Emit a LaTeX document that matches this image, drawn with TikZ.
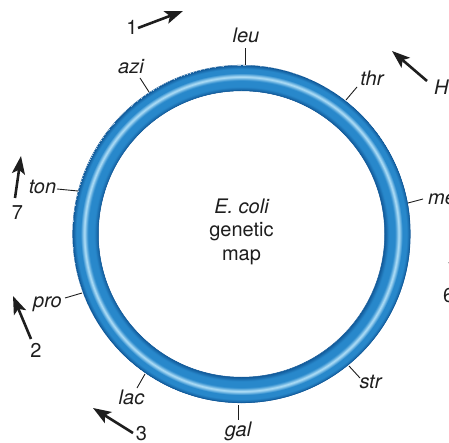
\documentclass[tikz,border=0pt]{standalone}
\usepackage{fontspec}
\setmainfont{TeX Gyre Heros}
\usetikzlibrary{arrows.meta}
\definecolor{ringdark}{RGB}{16,88,152}
\definecolor{ringmid}{RGB}{40,136,203}
\definecolor{ringlight}{RGB}{180,225,248}
\definecolor{inkc}{RGB}{30,30,30}
\pgfdeclareradialshading{ringshade}{\pgfpoint{0bp}{0bp}}{%
  color(0bp)=(white); color(142.2bp)=(white);
  color(142.47bp)=(ringdark);
  color(146.8bp)=(ringmid); color(152.9bp)=(ringmid);
  color(156.7bp)=(ringlight); color(160.4bp)=(ringmid);
  color(164.6bp)=(ringmid); color(168.37bp)=(ringdark)}
\begin{document}
\begin{tikzpicture}[x=1pt,y=-1pt,
  lab/.style={font=\fontsize{20}{24}\selectfont\itshape, inner sep=0pt, text=inkc},
  num/.style={font=\fontsize{20}{24}\selectfont, inner sep=0pt, text=inkc},
  ctr/.style={font=\fontsize{20}{24}\selectfont, inner sep=0pt, text=inkc, anchor=base},
  tickln/.style={line width=0.9pt, draw=inkc},
  arr/.style={line width=2.6pt, draw=inkc, -{Stealth[length=18pt,width=13pt,inset=4pt]}}]
\useasboundingbox (0,0) rectangle (449,443);
\clip (0,0) rectangle (449,443);
\coordinate (C) at (241.5,234);
% ring
\begin{scope}
  \clip (C) circle[radius=169pt];
  \node[inner sep=0pt, outer sep=0pt] (ring) at (C) {\pgfuseshading{ringshade}};
\end{scope}
\fill[white] (C) circle[radius=143pt];
\draw[ringdark, line width=0.5pt] (C) circle[radius=168.8pt] (C) circle[radius=143.2pt];
% centre text
\node[ctr, font=\fontsize{20}{24}\selectfont\itshape] (ec1) at (241.5,213.5) {E. coli};
\node[ctr] (ec2) at (241.5,237) {genetic};
\node[ctr] (ec3) at (241.5,260.5) {map};
% gene labels
\node[lab, anchor=base] (leu) at (246,43) {leu};
\node[lab, anchor=base] (thr) at (372,86) {thr};
\node[lab, anchor=base west] (met) at (428,205) {me};
\node[lab, anchor=base] (str) at (370.5,388) {str};
\node[lab, anchor=base] (gal) at (238,436) {gal};
\node[lab, anchor=base] (lac) at (131.5,404) {lac};
\node[lab, anchor=base] (pro) at (47.5,307) {pro};
\node[lab, anchor=base] (ton) at (42.5,194) {ton};
\node[lab, anchor=base] (azi) at (131,74) {azi};
% ticks
\coordinate (leu-a) at (245.5,65);  \coordinate (leu-b) at (245.5,48);
\coordinate (thr-a) at (346,100);   \coordinate (thr-b) at (357,87);
\coordinate (met-a) at (408,203);   \coordinate (met-b) at (423,199);
\coordinate (str-a) at (349,366);   \coordinate (str-b) at (360,378);
\coordinate (gal-a) at (238,405);   \coordinate (gal-b) at (238,420);
\coordinate (lac-a) at (145,374);   \coordinate (lac-b) at (137,388);
\coordinate (pro-a) at (82,293);    \coordinate (pro-b) at (65,298);
\coordinate (ton-a) at (78,191);    \coordinate (ton-b) at (57,189);
\coordinate (azi-a) at (149,92);    \coordinate (azi-b) at (140,78);
\foreach \g in {leu,thr,met,str,gal,lac,pro,ton,azi}
  \draw[tickln] (\g-a) -- (\g-b);
% numbered arrows
\node[num, anchor=base] (n1) at (132,35) {1};
\node[lab, anchor=base west] (nH) at (434,95) {H};
\node[num, anchor=base] (n7) at (17.5,220) {7};
\node[num, anchor=base] (n2) at (36,357) {2};
\node[num, anchor=base] (n3) at (141.5,440) {3};
\node[num, anchor=base west] (n6) at (443,302) {6};
\coordinate (a1-t) at (138,28);  \coordinate (a1-h) at (183,11);
\coordinate (aH-t) at (427,81);  \coordinate (aH-h) at (392,51);
\coordinate (a7-t) at (15,198);  \coordinate (a7-h) at (21,156);
\coordinate (a2-t) at (31,339);  \coordinate (a2-h) at (13,296);
\coordinate (a3-t) at (133,433); \coordinate (a3-h) at (93,408);
\coordinate (a6-t) at (478,302); \coordinate (a6-h) at (448.5,262);
\foreach \a in {a1,aH,a7,a2,a3,a6}
  \draw[arr] (\a-t) -- (\a-h);
\end{tikzpicture}
\end{document}
